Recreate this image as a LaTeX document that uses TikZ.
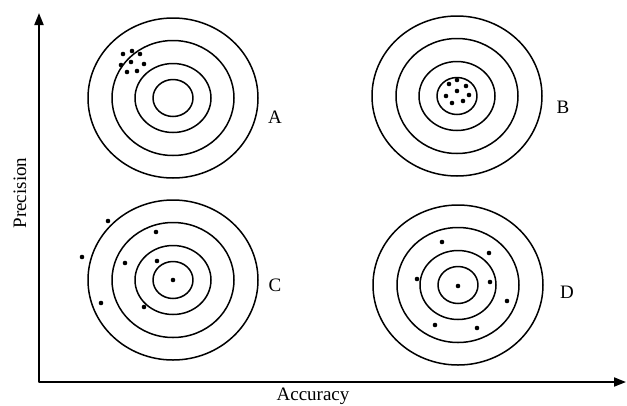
\documentclass[tikz,border=0pt]{standalone}
\usepackage{fontspec}
\setmainfont{Liberation Serif}
\usetikzlibrary{arrows.meta}

\begin{document}
\begin{tikzpicture}[x=1pt,y=-1pt,>={Triangle[length=12pt,width=9pt]},line cap=round,line join=round]
\useasboundingbox[fill=white] (0,0) rectangle (627,405);
\tikzset{axis/.style={draw=black,line width=1.8pt},ring/.style={draw=black,line width=1.5pt},shot/.style={fill=black},lbl/.style={font=\fontsize{19}{22}\selectfont,text=black}}
% axes
\coordinate (ytip) at (39,13);
\coordinate (origin) at (40,382);
\coordinate (xtip) at (626,382);
\draw[axis,<->] (ytip) |- (xtip);
\node[lbl,rotate=90] (precision) at (20,193) {Precision};
\node[lbl] (accuracy) at (313,396) {Accuracy};
% targets
\foreach \cx/\cy/\name/\lx/\ly in {173/98/A/275/117,457/96/B/563/107,173/280/C/275/285,458/285/D/567/292}{
  \foreach \rx/\ry in {85/80,61/57.5,38/34.5,20/18.5}
    \draw[ring] (\cx,\cy) ellipse [x radius=\rx pt,y radius=\ry pt];
  \node[lbl] (lab\name) at (\lx,\ly) {\name};
}
% shots
\foreach \p in {(123,54),(132,51),(140,54),(121,65),(131,62),(144,64),(127,72),(137,71)}
  \fill[shot] \p circle (2.3pt);
\foreach \p in {(457,80),(449,84),(466,86),(457,91),(446,96),(469,95),(452,103),(463,101)}
  \fill[shot] \p circle (2.3pt);
\foreach \p in {(108,221),(156,232),(82,257),(125,263),(157,261),(173,280),(101,303),(144,307)}
  \fill[shot] \p circle (2.3pt);
\foreach \p in {(442,242),(489,253),(417,279),(490,282),(458,286),(507,301),(435,325),(477,328)}
  \fill[shot] \p circle (2.3pt);
\end{tikzpicture}
\end{document}
